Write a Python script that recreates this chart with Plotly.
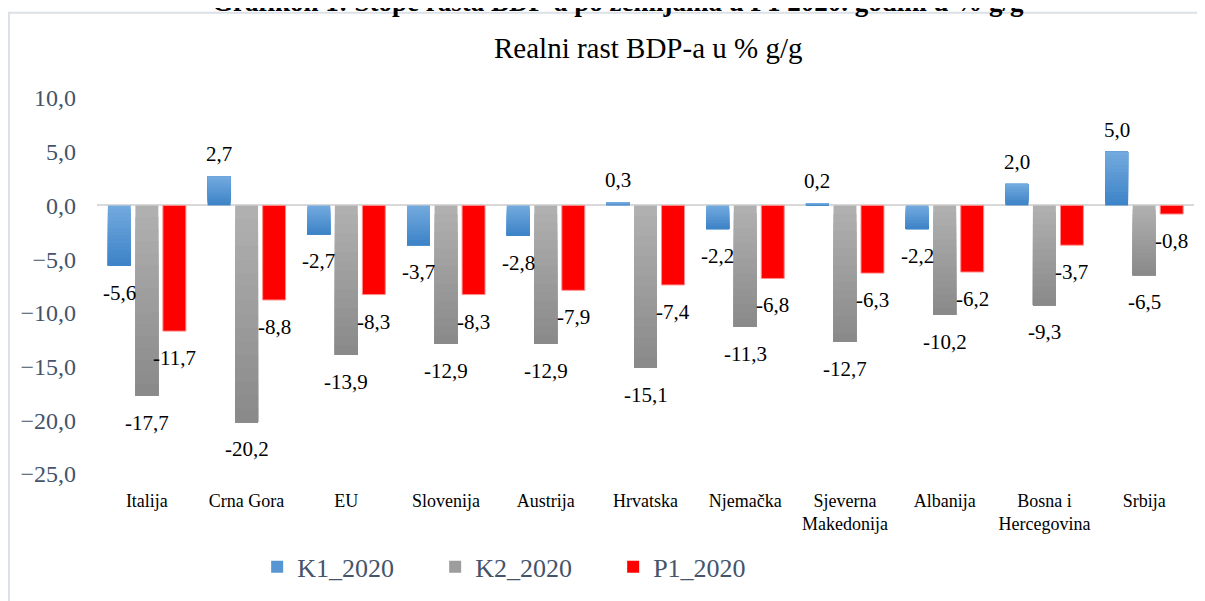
import plotly.graph_objects as go

categories = ["Italija", "Crna Gora", "EU", "Slovenija", "Austrija", "Hrvatska",
              "Njemačka", "Sjeverna<br>Makedonija", "Albanija", "Bosna i<br>Hercegovina", "Srbija"]
k1_2020 = [-5.6, 2.7, -2.7, -3.7, -2.8, 0.3, -2.2, 0.2, -2.2, 2.0, 5.0]
k2_2020 = [-17.7, -20.2, -13.9, -12.9, -12.9, -15.1, -11.3, -12.7, -10.2, -9.3, -6.5]
p1_2020 = [-11.7, -8.8, -8.3, -8.3, -7.9, -7.4, -6.8, -6.3, -6.2, -3.7, -0.8]
series_names = ["K1_2020", "K2_2020", "P1_2020"]

SERIF = "Liberation Serif"
AXIS_TXT = "#44546A"

# light (top) -> dark (bottom) fill per series, like the Excel gradient
grads = [((114, 169, 222), (62, 132, 200)),
         ((176, 176, 176), (138, 138, 138)),
         ((255, 0, 0), (255, 0, 0))]
n_seg = [16, 16, 1]
bar_w = 0.23
step = 0.276


def mix(c0, c1, t):
    return "rgb(%d,%d,%d)" % tuple(round(a + (b - a) * t) for a, b in zip(c0, c1))


def fmt(v):
    return ("%.1f" % v).replace(".", ",")


fig = go.Figure()
all_series = [k1_2020, k2_2020, p1_2020]

for i, vals in enumerate(all_series):
    light, dark = grads[i]
    offset = (i - 1) * step - bar_w / 2
    n = n_seg[i]
    for k in range(n):
        bases, heights, cols = [], [], []
        for v in vals:
            # each layer runs from its start to the bar end, so no seams
            bases.append(v * k / n)
            heights.append(v * (1 - k / n))
            t = k / (n - 1) if n > 1 else 0.5
            cols.append(mix(light, dark, t if v < 0 else 1 - t))
        line = dict(width=1, color="#FF8C8C") if i == 2 else dict(width=0)
        fig.add_trace(go.Bar(
            x=categories, y=heights, base=bases,
            offset=offset, width=bar_w,
            marker=dict(color=cols, line=line),
            showlegend=False, hoverinfo="skip",
        ))
    # legend entry
    fig.add_trace(go.Bar(
        x=[None], y=[None], name=series_names[i],
        marker=dict(color=mix(light, dark, 0.5), line=dict(width=0)),
    ))

annotations = []
for i, vals in enumerate(all_series):
    for c, v in zip(categories, vals):
        annotations.append(dict(
            x=c, y=v, xref="x", yref="y", text=fmt(v), showarrow=False,
            xshift=(i - 1) * step * 99.7, yshift=22 if v > 0 else -27,
            yanchor="middle", font=dict(family=SERIF, size=21, color="black"),
        ))

annotations.append(dict(
    text="Realni rast BDP-a u % g/g", xref="paper", yref="paper",
    x=0.502, y=1.133, showarrow=False, yanchor="middle",
    font=dict(family=SERIF, size=29, color="black"),
))
annotations.append(dict(
    text="<b>Grafikon 1: Stope rasta BDP-a po zemljama u P1 2020. godini u % g/g</b>",
    xref="paper", yref="paper", x=0.4745, y=1.255, showarrow=False,
    yanchor="middle", font=dict(family=SERIF, size=27, color="black"),
))

# page body has an 8px margin, so the figure is shifted up/left to compensate
fig.update_layout(
    width=1197, height=593,
    margin=dict(l=89, r=11, t=90, b=119),
    barmode="overlay",
    separators=",.",
    paper_bgcolor="white", plot_bgcolor="white",
    annotations=annotations,
    showlegend=True,
    legend=dict(orientation="h", x=0.146, y=-0.247, xanchor="left", yanchor="middle",
                font=dict(family=SERIF, size=26, color=AXIS_TXT),
                entrywidth=133, entrywidthmode="pixels", itemwidth=30,
                traceorder="normal"),
    shapes=[dict(type="rect", xref="paper", yref="paper",
                 x0=-0.0802, x1=1.05, y0=-0.35, y1=1.2266,
                 line=dict(color="#DCE1E8", width=2), fillcolor="rgba(0,0,0,0)")],
)
fig.update_xaxes(showgrid=False, showline=False, zeroline=False,
                 ticks="", ticklabelstandoff=14,
                 tickfont=dict(family=SERIF, size=18, color="black"))
fig.update_yaxes(range=[-25, 10], dtick=5, tick0=0, tickformat=".1f",
                 showgrid=False, showline=False,
                 zeroline=True, zerolinecolor="#D9D9D9", zerolinewidth=2,
                 ticklabelstandoff=20,
                 tickfont=dict(family=SERIF, size=24, color=AXIS_TXT))

fig.write_html("out.html")
